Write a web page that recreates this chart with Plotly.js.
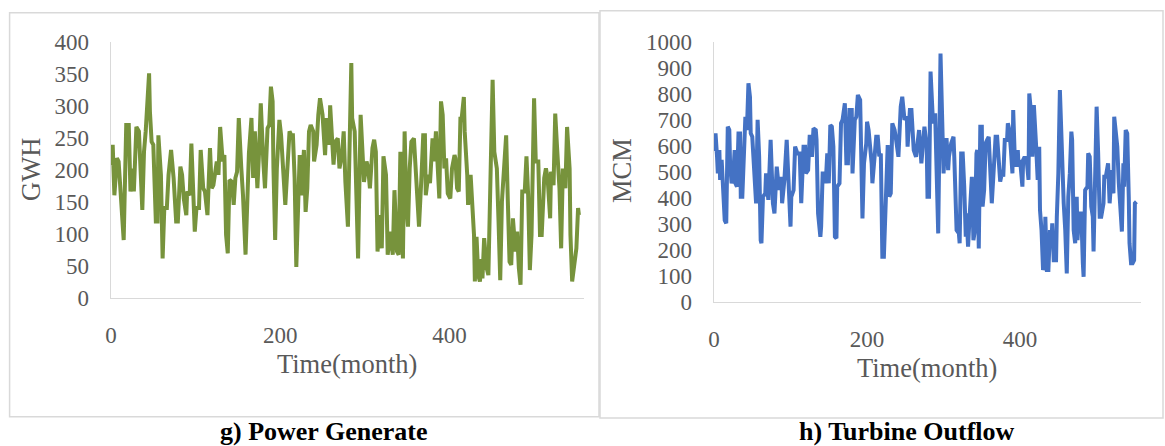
<!DOCTYPE html>
<html>
<head>
<meta charset="utf-8">
<script src="https://cdn.plot.ly/plotly-3.0.1.min.js"></script>
<style>html,body{margin:0;padding:0;background:#fff;}#chart{width:1165px;height:446px;}</style>
</head>
<body>
<div id="chart"></div>
<script>
// g) Power Generate (GWH) — vertices
const powerMonth = [0,2,4,7,9,11,15,18,21,23,26,27,30,33,37,39,41,45,46,48,50,53,55,56,59,61,63,66,68,71,74,77,79,82,84,86,89,90,93,95,97,99,101,104,106,109,111,114,117,119,121,123,125,127,129,132,134,136,138,140,143,145,147,149,151,154,156,159,161,163,166,168,170,173,175,177,180,182,185,187,189,191,192,194,196,199,201,204,206,208,211,213,215,217,219,223,225,228,230,232,234,236,239,240,243,245,247,250,251,253,255,258,259,262,263,265,268,270,273,275,277,280,281,284,285,288,290,292,295,297,299,302,304,306,309,311,313,315,318,320,322,325,327,330,333,335,338,340,342,345,347,349,351,353,355,358,360,362,364,367,369,371,372,375,377,380,382,384,387,388,390,392,394,396,398,401,403,406,407,409,411,413,414,417,418,421,422,425,427,429,430,432,434,436,438,439,441,444,446,449,451,453,456,458,460,462,464,467,469,471,473,475,478,480,482,484,486,489,491,493,495,497,500,502,505,507,509,512,514,516,519,520,523,525,527,530,532,534,537,539,542,543,545,547,550,552,553];
const powerGWH = [207,239,160,218,213,171,90,270,270,166,202,166,267,260,137,228,260,351,291,244,239,119,119,254,192,61,140,140,192,231,187,119,119,205,192,155,129,166,160,241,187,103,140,140,231,171,166,129,234,171,176,197,213,192,267,213,223,98,69,184,181,145,187,197,281,202,160,67,166,226,281,187,260,171,228,304,213,171,265,270,330,307,202,90,202,278,254,197,145,192,260,254,254,187,48,223,160,231,134,171,260,270,260,213,239,286,312,286,254,223,281,239,301,234,208,244,249,202,223,260,181,111,181,367,281,260,160,61,286,239,181,213,202,171,234,247,228,72,129,77,221,192,67,103,67,168,72,67,228,61,260,150,111,202,244,249,208,150,111,192,254,254,160,192,179,249,213,260,160,155,307,286,202,218,163,155,202,223,218,171,166,283,275,314,260,192,145,192,145,98,25,95,35,25,60,30,93,46,35,187,341,228,202,119,27,150,187,254,150,56,51,124,72,103,46,20,166,166,221,160,43,98,312,213,213,98,98,187,202,187,124,197,176,288,239,171,77,202,171,267,202,98,25,46,77,140,129];

// h) Turbine Outflow (MCM) — vertices
const outflowMonth = [0,2,4,5,7,8,10,12,14,16,18,20,21,23,25,27,28,30,32,34,35,37,40,41,43,45,47,48,50,52,54,55,57,59,61,62,64,67,68,71,74,75,77,79,81,82,85,88,89,92,95,97,100,101,104,106,109,112,114,117,119,120,123,125,126,128,130,133,134,136,139,140,142,145,146,148,150,152,154,156,158,160,161,164,166,168,171,173,175,177,180,181,184,186,188,191,193,194,196,199,200,202,204,206,207,209,212,214,216,218,220,222,224,225,227,229,231,233,236,238,241,244,246,249,252,253,256,258,261,264,266,268,271,272,275,278,279,281,283,286,287,289,292,293,296,298,300,302,304,306,307,310,313,314,317,320,321,323,325,327,329,330,332,334,336,337,339,341,343,344,346,348,350,351,353,355,357,359,361,363,365,368,370,372,374,377,378,380,383,384,386,388,390,391,393,395,397,398,400,403,404,406,409,411,412,414,416,418,419,421,423,425,426,428,430,432,433,435,437,439,441,442,444,447,448,450,452,454,455,457,459,461,463,465,467,468,470,472,474,475,477,480,482,483,485,488,489,491,493,495,496,498,500,502,504,506,509,510,512,515,517,520,522,523,525,527,529,531,533,535,536,538,540,542,543,545,547,549,550,552];
const outflowMCM = [580,648,558,494,584,469,546,456,314,302,674,661,533,456,481,584,456,443,648,648,404,404,584,712,661,841,789,648,635,507,379,379,700,558,237,225,404,417,494,392,623,558,379,340,520,520,430,481,379,469,623,443,289,404,430,597,571,571,379,597,597,494,507,635,635,558,667,661,623,340,250,289,494,494,456,571,456,680,674,597,250,244,443,456,687,700,764,533,533,738,738,494,700,712,796,777,546,321,533,610,693,661,597,533,456,533,635,635,560,571,173,173,404,494,603,404,417,687,661,623,558,751,789,700,712,597,738,738,584,558,597,661,533,584,674,597,404,404,886,700,687,725,327,263,956,661,494,623,623,507,558,610,635,558,276,263,225,571,571,443,250,340,212,327,481,481,237,276,571,584,205,674,674,366,430,610,623,635,507,379,481,635,635,558,462,507,481,623,623,687,661,584,494,738,558,520,584,520,546,443,546,558,533,469,802,738,558,757,712,597,469,597,353,276,122,148,327,122,122,276,225,302,160,160,327,494,815,584,546,379,276,109,404,494,655,623,276,225,404,237,340,340,148,96,430,443,571,558,366,327,193,584,751,571,327,327,379,481,481,533,379,507,417,712,661,597,456,366,270,533,443,661,648,404,225,148,148,160,379,385];

const xTicks = [0, 200, 400];
const powerTicks = [0,50,100,150,200,250,300,350,400];
const outflowTicks = [0,100,200,300,400,500,600,700,800,900,1000];

const W = 1165, H = 446;
const px = v => v / W;
const py = v => 1 - v / H;

const serif = 'Liberation Serif, Times New Roman, serif';
const grey = '#595959';
const axisLine = '#D9D9D9';

const tickFont = {family: serif, size: 23, color: grey};
const baseAxis = {
  showline: true, linecolor: axisLine, linewidth: 1.5,
  showgrid: false, zeroline: false, ticks: '',
  tickfont: tickFont, ticklabelstandoff: 16, fixedrange: true
};

const traces = [
  {x: powerMonth, y: powerGWH, type: 'scatter', mode: 'lines',
   line: {color: '#77933C', width: 4}, xaxis: 'x', yaxis: 'y', hoverinfo: 'skip'},
  {x: outflowMonth, y: outflowMCM, type: 'scatter', mode: 'lines',
   line: {color: '#4472C4', width: 4}, xaxis: 'x2', yaxis: 'y2', hoverinfo: 'skip'}
];

const titleFont = {family: serif, size: 26.5, color: grey};
const capFont = {family: serif, size: 26, color: '#000000'};

const layout = {
  width: W, height: H,
  margin: {l: 0, r: 0, t: 0, b: 0},
  paper_bgcolor: '#ffffff', plot_bgcolor: '#ffffff',
  showlegend: false,
  xaxis: Object.assign({}, baseAxis, {domain: [px(111), px(584)], range: [0, 559], tickvals: xTicks, anchor: 'y'}),
  yaxis: Object.assign({}, baseAxis, {domain: [py(297.5), py(42)], range: [0, 400], tickvals: powerTicks, anchor: 'x'}),
  xaxis2: Object.assign({}, baseAxis, {domain: [px(714), px(1141)], range: [0, 558], tickvals: xTicks, anchor: 'y2'}),
  yaxis2: Object.assign({}, baseAxis, {domain: [py(301.7), py(42)], range: [0, 1000], tickvals: outflowTicks, anchor: 'x2'}),
  shapes: [
    {type: 'rect', xref: 'paper', yref: 'paper', x0: px(9.6), x1: px(599), y0: py(416.7), y1: py(12.7),
     line: {color: axisLine, width: 1.5}},
    {type: 'rect', xref: 'paper', yref: 'paper', x0: px(600), x1: px(1163), y0: py(418), y1: py(10.7),
     line: {color: axisLine, width: 1.5}}
  ],
  annotations: [
    {text: 'GWH', x: px(31), y: py(170), textangle: -90, font: titleFont},
    {text: 'Time(month)', x: px(347), y: py(364), font: titleFont},
    {text: 'MCM', x: px(622), y: py(171), textangle: -90, font: titleFont},
    {text: 'Time(month)', x: px(927), y: py(368), font: titleFont},
    {text: '<b>g) Power Generate</b>', x: px(323), y: py(431), font: capFont},
    {text: '<b>h) Turbine Outflow</b>', x: px(907), y: py(431), font: capFont}
  ].map(a => Object.assign({xref: 'paper', yref: 'paper', showarrow: false,
    xanchor: 'center', yanchor: 'middle'}, a))
};

Plotly.newPlot('chart', traces, layout, {staticPlot: true, displayModeBar: false});
</script>
</body>
</html>
